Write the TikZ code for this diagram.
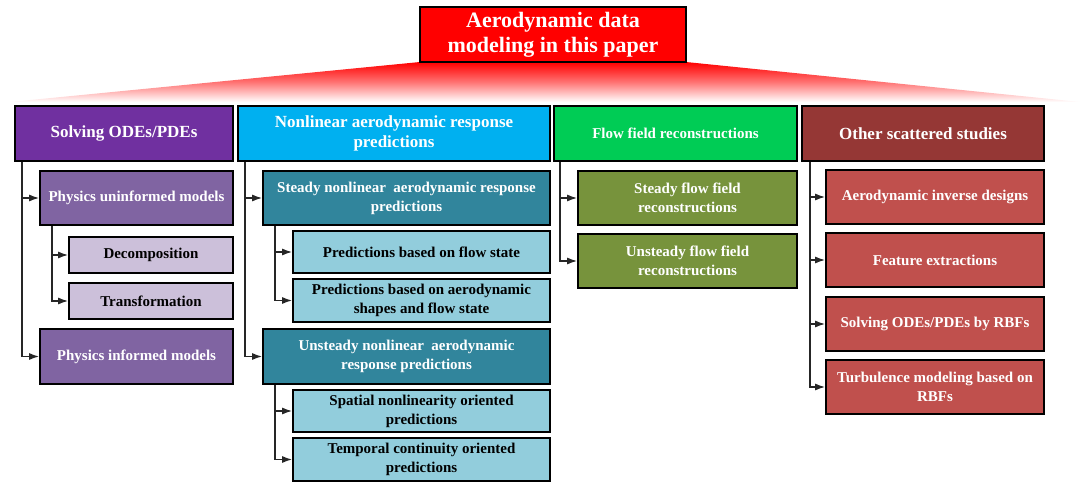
\documentclass[tikz,border=0pt]{standalone}
\usepackage{fontspec}
\setmainfont{Liberation Serif}
\usetikzlibrary{arrows.meta}
\definecolor{cTop}{HTML}{FF0000}
\definecolor{cSolv}{HTML}{7030A0}
\definecolor{cSolvA}{HTML}{8064A2}
\definecolor{cSolvB}{HTML}{CCC0DA}
\definecolor{cNL}{HTML}{00B0F0}
\definecolor{cNLA}{HTML}{31859C}
\definecolor{cNLB}{HTML}{92CDDC}
\definecolor{cFF}{HTML}{00CC55}
\definecolor{cFFA}{HTML}{77933C}
\definecolor{cOS}{HTML}{953735}
\definecolor{cOSA}{HTML}{C0504D}
\tikzset{
  box/.style={draw=black, line width=1.6pt, rectangle, inner sep=2pt, align=center, font=\bfseries},
  hdr/.style={box, text=white, font=\fontsize{17}{20}\selectfont\bfseries},
  subw/.style={box, text=white, font=\fontsize{15}{19}\selectfont\bfseries},
  subk/.style={box, text=black, font=\fontsize{15}{19}\selectfont\bfseries},
  arr/.style={line width=1.5pt, draw=black!85, -{Latex[length=10pt,width=7pt]}},
}
\begin{document}
\begin{tikzpicture}[x=1pt,y=-1pt]
\useasboundingbox (0,0) rectangle (1080,495);
% fan gradient
\shade[top color=cTop, bottom color=white, middle color=cTop!55] (420,62) -- (686,62) -- (1080,102) -- (10,102) -- cycle;
% top node
\node[box, fill=cTop, text=white, font=\fontsize{22}{25}\selectfont\bfseries, minimum width=266pt, minimum height=55pt] (top) at (553,34.5) {Aerodynamic data\\modeling in this paper};
% column 1
\node[hdr, fill=cSolv, minimum width=218pt, minimum height=55pt] (solv) at (124,133.5) {Solving ODEs/PDEs};
\node[subw, fill=cSolvA, minimum width=193pt, minimum height=54pt] (phun) at (136.5,198) {Physics uninformed models};
\node[subk, fill=cSolvB, minimum width=164pt, minimum height=36pt] (dec) at (151,255) {Decomposition};
\node[subk, fill=cSolvB, minimum width=164pt, minimum height=36pt] (trf) at (151,301) {Transformation};
\node[subw, fill=cSolvA, minimum width=193pt, minimum height=55pt] (phin) at (136.5,356.5) {Physics informed models};
% column 2
\node[hdr, fill=cNL, minimum width=312pt, minimum height=55pt] (nl) at (394,133.5) {Nonlinear aerodynamic response\\predictions};
\node[subw, fill=cNLA, minimum width=287pt, minimum height=54pt] (snl) at (406.5,198) {Steady nonlinear \ aerodynamic response\\predictions};
\node[subk, fill=cNLB, minimum width=257pt, minimum height=42pt] (pfs) at (421.5,252) {Predictions based on flow state};
\node[subk, fill=cNLB, minimum width=257pt, minimum height=43pt] (pas) at (421.5,300.5) {Predictions based on aerodynamic\\shapes and flow state};
\node[subw, fill=cNLA, minimum width=287pt, minimum height=55pt] (unl) at (406.5,356.5) {Unsteady nonlinear \ aerodynamic\\response predictions};
\node[subk, fill=cNLB, minimum width=257pt, minimum height=42pt] (spn) at (421.5,411) {Spatial nonlinearity oriented\\predictions};
\node[subk, fill=cNLB, minimum width=257pt, minimum height=43pt] (tcp) at (421.5,459.5) {Temporal continuity oriented\\predictions};
% column 3
\node[box, fill=cFF, text=white, font=\fontsize{15}{19}\selectfont\bfseries, minimum width=243pt, minimum height=55pt] (ff) at (675.5,133.5) {Flow field reconstructions};
\node[subw, fill=cFFA, minimum width=219pt, minimum height=54pt] (sff) at (687.5,198) {Steady flow field\\reconstructions};
\node[subw, fill=cFFA, minimum width=219pt, minimum height=54pt] (uff) at (687.5,261) {Unsteady flow field\\reconstructions};
% column 4
\node[hdr, fill=cOS, minimum width=242pt, minimum height=55pt] (os) at (923,133.5) {Other scattered studies};
\node[subw, fill=cOSA, minimum width=218pt, minimum height=54pt] (aid) at (935,197) {Aerodynamic inverse designs};
\node[subw, fill=cOSA, minimum width=218pt, minimum height=54pt] (fex) at (935,260) {Feature extractions};
\node[subw, fill=cOSA, minimum width=218pt, minimum height=54pt] (srb) at (935,324) {Solving ODEs/PDEs by RBFs};
\node[subw, fill=cOSA, minimum width=218pt, minimum height=54pt] (tmb) at (935,387) {Turbulence modeling based on\\RBFs};
% connectors
\draw[arr] ([xshift=8pt]solv.south west) |- (phun.west);
\draw[arr] ([xshift=8pt]solv.south west) |- (phin.west);
\draw[arr] ([xshift=13pt]phun.south west) |- (dec.west);
\draw[arr] ([xshift=13pt]phun.south west) |- (trf.west);
\draw[arr] ([xshift=8pt]nl.south west) |- (snl.west);
\draw[arr] ([xshift=8pt]nl.south west) |- (unl.west);
\draw[arr] ([xshift=13pt]snl.south west) |- (pfs.west);
\draw[arr] ([xshift=13pt]snl.south west) |- (pas.west);
\draw[arr] ([xshift=13pt]unl.south west) |- (spn.west);
\draw[arr] ([xshift=13pt]unl.south west) |- (tcp.west);
\draw[arr] ([xshift=7pt]ff.south west) |- (sff.west);
\draw[arr] ([xshift=7pt]ff.south west) |- (uff.west);
\draw[arr] ([xshift=9pt]os.south west) |- (aid.west);
\draw[arr] ([xshift=9pt]os.south west) |- (fex.west);
\draw[arr] ([xshift=9pt]os.south west) |- (srb.west);
\draw[arr] ([xshift=9pt]os.south west) |- (tmb.west);
\end{tikzpicture}
\end{document}
